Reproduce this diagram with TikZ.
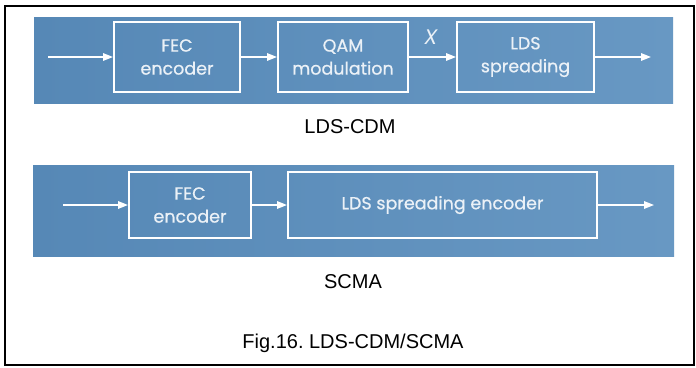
\documentclass[tikz,border=0pt]{standalone}
\usepackage{fontspec}
\setmainfont{Liberation Sans}
\newfontfamily\boxfont[FakeBold=0.6]{Poppins}
\newfontfamily\xfont{Poppins}
\usetikzlibrary{arrows.meta}
\definecolor{panelL}{RGB}{86,136,182}
\definecolor{panelR}{RGB}{104,152,195}
\definecolor{boxtext}{RGB}{235,241,247}
\tikzset{
  panel/.style={draw=none, left color=panelL, right color=panelR},
  blockbox/.style={draw=white, line width=2pt, inner sep=0pt, align=center,
    text=boxtext, font=\boxfont\fontsize{17.5}{23}\selectfont},
  flow/.style={draw=white, line width=1.6pt, -{Triangle[length=10pt,width=7.5pt]}},
  caption/.style={font=\frenchspacing\fontsize{20}{24}\selectfont, text=black, inner sep=0pt}
}
\begin{document}
\begin{tikzpicture}[x=1pt,y=-1pt]
\useasboundingbox (0,0) rectangle (696,367);
\draw[line width=1.5pt] (5,6) rectangle (694,365);
% top panel
\shade[panel] (34,17) rectangle (673,103);
\node[blockbox, minimum width=126pt, minimum height=70pt] (fec1) at (177,57) {FEC\\encoder};
\node[blockbox, minimum width=130pt, minimum height=70pt] (qam) at (343,57) {QAM\\modulation};
\node[blockbox, minimum width=137pt, minimum height=70pt] (lds1) at (525.5,57) {LDS\\spreading};
\coordinate (in1) at (48,57);
\coordinate (out1) at (651,57);
\draw[flow] (in1) -- (fec1);
\draw[flow] (fec1) -- (qam);
\draw[flow] (qam) -- (lds1);
\draw[flow] (lds1) -- (out1);
\node[text=boxtext, font=\xfont\itshape\fontsize{21}{22}\selectfont, inner sep=0pt] (xlab) at (431,37) {X};
\node[caption] (cap1) at (350,127) {LDS-CDM};
% bottom panel
\shade[panel] (33,165) rectangle (674,256);
\node[blockbox, minimum width=122pt, minimum height=66pt] (fec2) at (190,205) {FEC\\encoder};
\node[blockbox, minimum width=309pt, minimum height=66pt] (lds2) at (442.5,205) {LDS spreading encoder};
\coordinate (in2) at (63,205);
\coordinate (out2) at (654,205);
\draw[flow] (in2) -- (fec2);
\draw[flow] (fec2) -- (lds2);
\draw[flow] (lds2) -- (out2);
\node[caption] (cap2) at (353,282) {SCMA};
\node[caption] (cap3) at (353,343) {Fig.16. LDS-CDM/SCMA};
\end{tikzpicture}
\end{document}
